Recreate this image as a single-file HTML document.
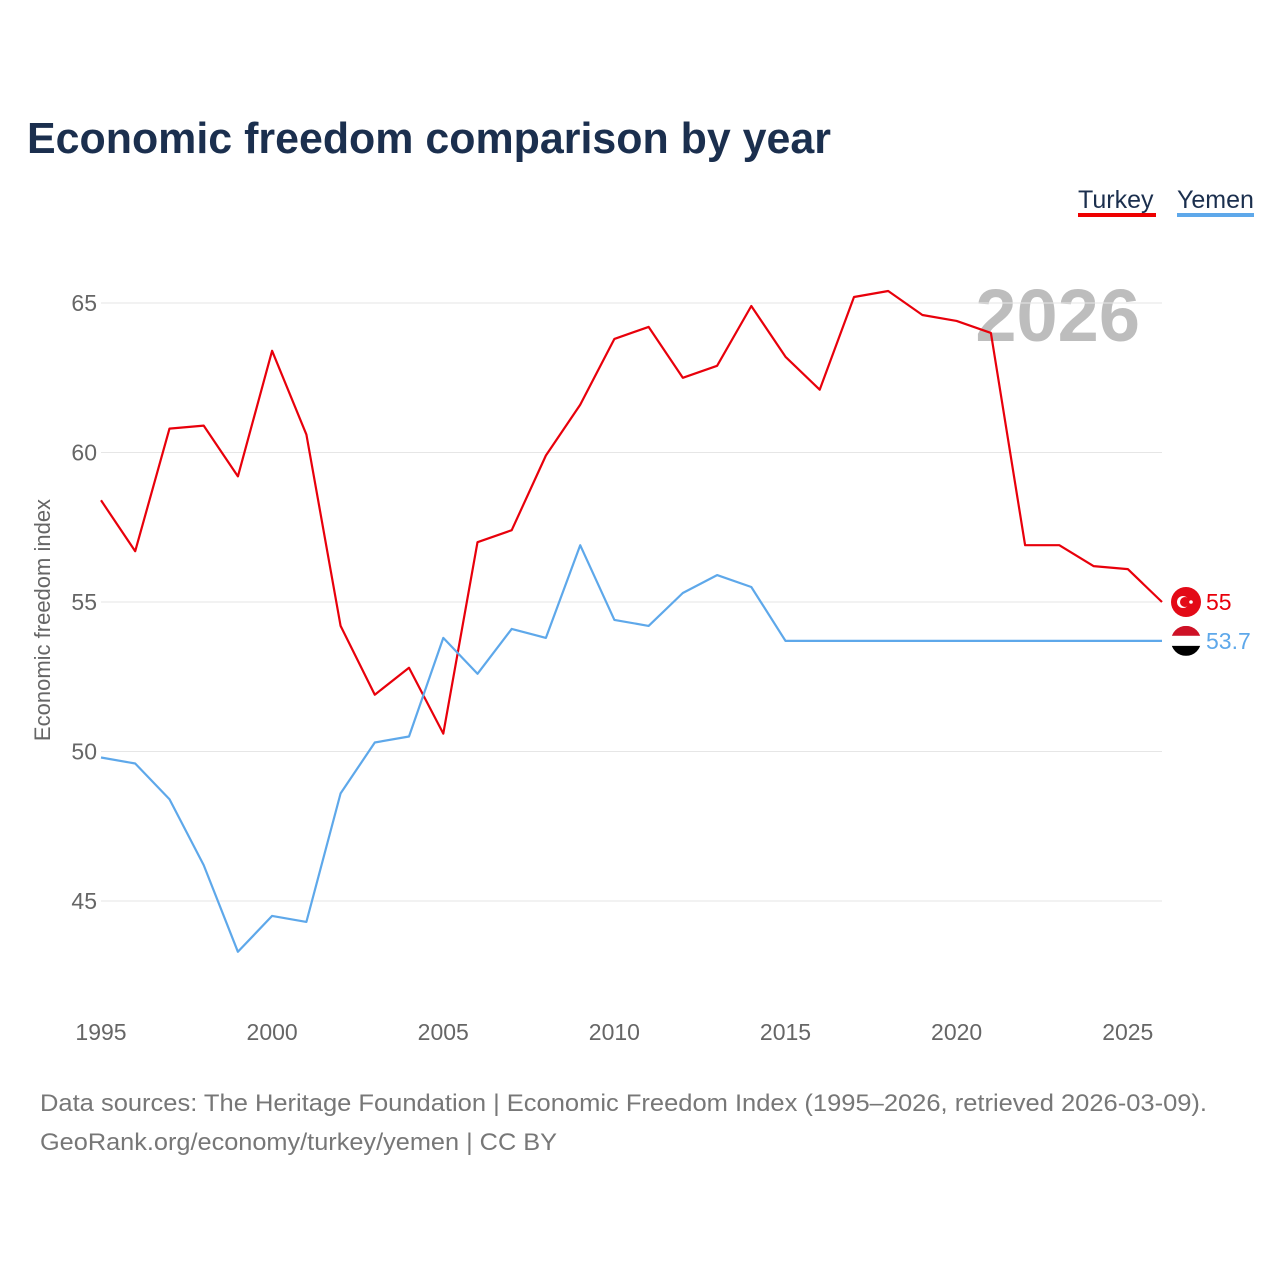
<!DOCTYPE html>
<html><head><meta charset="utf-8">
<style>
body{margin:0;background:#fff;font-family:"Liberation Sans",sans-serif;}
svg text{font-family:"Liberation Sans",sans-serif;}
</style></head>
<body>
<svg id="chart" width="1280" height="1280" xmlns="http://www.w3.org/2000/svg">
<rect width="1280" height="1280" fill="#fff"/>
<text x="27" y="153" font-size="44" font-weight="bold" fill="#1b2f4e" textLength="804" lengthAdjust="spacingAndGlyphs">Economic freedom comparison by year</text>
<g>
<text x="1078" y="208" font-size="25" fill="#1b2f4e">Turkey</text>
<rect x="1078" y="213" width="78" height="4" fill="#e00"/></g>
<g>
<text x="1177" y="208" font-size="25" fill="#1b2f4e">Yemen</text>
<rect x="1177" y="213" width="77" height="4" fill="#5ea8ea"/></g>
<text x="1140" y="341" text-anchor="end" font-size="74" font-weight="bold" fill="#bdbdbd">2026</text>
<text transform="translate(50,620) rotate(-90)" text-anchor="middle" font-size="22" fill="#666">Economic freedom index</text>
<g id="grid"></g><g id="xt"></g><g id="lines"></g>
<text x="40" y="1111" font-size="24" fill="#777" textLength="1167" lengthAdjust="spacingAndGlyphs">Data sources: The Heritage Foundation | Economic Freedom Index (1995–2026, retrieved 2026-03-09).</text>
<text x="40" y="1150" font-size="24" fill="#777" textLength="517" lengthAdjust="spacingAndGlyphs">GeoRank.org/economy/turkey/yemen | CC BY</text>
</svg>
<script>
const years=[];for(let y=1995;y<=2026;y++)years.push(y);
const turkey=[58.4,56.7,60.8,60.9,59.2,63.4,60.6,54.2,51.9,52.8,50.6,57.0,57.4,59.9,61.6,63.8,64.2,62.5,62.9,64.9,63.2,62.1,65.2,65.4,64.6,64.4,64.0,56.9,56.9,56.2,56.1,55.0];
const yemen=[49.8,49.6,48.4,46.2,43.3,44.5,44.3,48.6,50.3,50.5,53.8,52.6,54.1,53.8,56.9,54.4,54.2,55.3,55.9,55.5,53.7,53.7,53.7,53.7,53.7,53.7,53.7,53.7,53.7,53.7,53.7,53.7];
const yTicks=[45,50,55,60,65];
const xTicks=[1995,2000,2005,2010,2015,2020,2025];
const X=v=>101+(v-1995)*(1061/31);
const Y=v=>303+(65-v)*29.9;
const NS="http://www.w3.org/2000/svg";
function mk(p,t,a){const e=document.createElementNS(NS,t);for(const k in a)e.setAttribute(k,a[k]);p.appendChild(e);return e;}
const grid=document.getElementById('grid'),xt=document.getElementById('xt'),lines=document.getElementById('lines');
yTicks.forEach(v=>{
 const l=mk(grid,'line',{x1:101,x2:1162,y1:Y(v),y2:Y(v),stroke:'#e6e6e6','stroke-width':1});
 
 
 const t=mk(grid,'text',{x:97,y:Y(v)+8,'text-anchor':'end','font-size':23,fill:'#666'});t.textContent=v;
 
 
});
xTicks.forEach(v=>{
 const t=mk(xt,'text',{x:X(v),y:1040,'text-anchor':'middle','font-size':23,fill:'#666'});t.textContent=v;
 
 
});
function series(vals,color,name){
 const d=vals.map((v,i)=>(i?'L':'M')+X(years[i]).toFixed(1)+','+Y(v).toFixed(1)).join('');
 const p=mk(lines,'path',{d:d,fill:'none',stroke:color,'stroke-width':2.2,'stroke-linejoin':'round'});
 
 
 const last=vals[vals.length-1],cy=Y(last);
 const t=mk(lines,'text',{x:1206,y:cy+8,'font-size':23,fill:color});t.textContent=last;
 
 
 return cy;
}
const ty=series(turkey,'#e8000b','turkey');
const yy=series(yemen,'#5ea8ea','yemen');
const f1=mk(lines,'g',{});


mk(f1,'circle',{cx:1186,cy:ty,r:15,fill:'#e30a17'});
mk(f1,'circle',{cx:1183,cy:ty,r:6,fill:'#fff'});
mk(f1,'circle',{cx:1185,cy:ty,r:5,fill:'#e30a17'});
mk(f1,'circle',{cx:1191,cy:ty,r:1.8,fill:'#fff'});
const f2=mk(lines,'g',{});


mk(f2,'clipPath',{id:'yc'}).appendChild(document.createElementNS(NS,'circle'));
const cc=f2.querySelector('#yc circle');cc.setAttribute('cx',1186);cc.setAttribute('cy',yy);cc.setAttribute('r',15);
mk(f2,'rect',{x:1171,y:yy-15,width:30,height:10,fill:'#ce1126','clip-path':'url(#yc)'});
mk(f2,'rect',{x:1171,y:yy-5,width:30,height:10,fill:'#fff','clip-path':'url(#yc)'});
mk(f2,'rect',{x:1171,y:yy+5,width:30,height:10,fill:'#000','clip-path':'url(#yc)'});
</script>
</body></html>
